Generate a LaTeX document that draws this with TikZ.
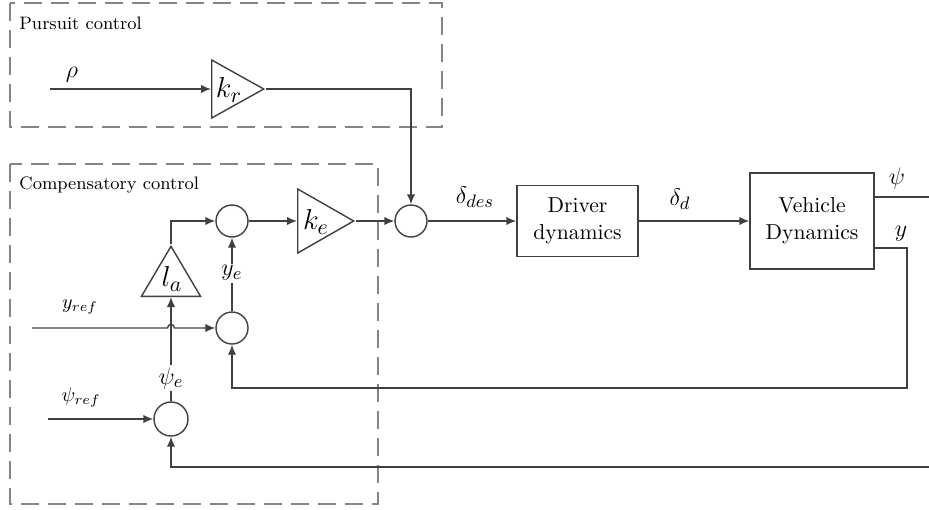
\documentclass[tikz,border=0pt]{standalone}
\usepackage{amsmath}
\usetikzlibrary{arrows.meta,shapes.geometric}
\definecolor{linegray}{HTML}{404040}
\definecolor{dashgray}{HTML}{858585}
\tikzset{
  sumnode/.style={draw=linegray, circle, minimum size=16pt, inner sep=0pt, line width=0.7pt},
  gainnode/.style={draw=linegray, isosceles triangle, isosceles triangle stretches, inner sep=0pt, line width=0.7pt},
  gainlbl/.style={inner sep=0pt, font=\fontsize{15}{17}\selectfont},
  blocknode/.style={draw=linegray, rectangle, align=center, inner sep=0pt, line width=0.7pt, font=\fontsize{10.8}{13.5}\selectfont},
  sig/.style={draw=linegray, line width=0.7pt, -{Latex[length=5pt,width=4.2pt]}},
  wire/.style={draw=linegray, line width=0.7pt},
  groupbox/.style={draw=dashgray, dash pattern=on 9pt off 4.5pt, line width=0.6pt},
  grouptitle/.style={anchor=west, inner sep=0pt, font=\small},
  mathlbl/.style={inner sep=1pt, font=\fontsize{12.5}{14}\selectfont},
  reflbl/.style={inner sep=1pt, font=\fontsize{10}{12}\selectfont},
}

\begin{document}
\begin{tikzpicture}[x=0.5pt, y=-0.5pt]
  \useasboundingbox (0,0) rectangle (929,509);
  % group frames
  \draw[groupbox] (10,3) rectangle (442,127);
  \node[grouptitle] (pursuittitle) at (19,23) {Pursuit control};
  \draw[groupbox] (10,164) rectangle (378,504);
  \node[grouptitle] (comptitle) at (19,185) {Compensatory control};

  % blocks
  \node[gainnode, anchor=west, minimum width=29pt, minimum height=26pt] (kr) at (211,89) {};
  \node[gainlbl] (krlbl) at (229,90) {$k_r$};
  \node[gainnode, anchor=west, minimum width=32pt, minimum height=28pt] (ke) at (297,221) {};
  \node[gainlbl] (kelbl) at (316,222) {$k_e$};
  \node[gainnode, shape border rotate=90, anchor=south, minimum width=29.5pt, minimum height=25pt] (la) at (171,297) {};
  \node[gainlbl] (lalbl) at (172,279) {$l_a$};
  \node[sumnode] (sumdes) at (411,221) {};
  \node[sumnode] (sume) at (232,221) {};
  \node[sumnode] (sumy) at (232,328) {};
  \node[sumnode, minimum size=17pt] (sumpsi) at (171,419) {};
  \node[blocknode, minimum width=60.5pt, minimum height=35.5pt] (driver) at (577.5,221) {Driver\\dynamics};
  \node[blocknode, minimum width=62pt, minimum height=48pt] (vehicle) at (812,221) {Vehicle\\Dynamics};

  % free ends
  \coordinate (rhoin) at (50,89);
  \coordinate (yrefin) at (32,328);
  \coordinate (psirefin) at (48,419);
  \coordinate (psiout) at (929,197);
  \coordinate (psiback) at (929,467);
  \coordinate (ycorner) at (907,248);
  \coordinate (yback) at (907,388);

  % signals
  \draw[sig] (rhoin) -- (kr.west);
  \node[mathlbl] (rholbl) at (72,75) {$\rho$};
  \draw[sig] (kr.apex) -| (sumdes.north);
  \draw[sig] (ke.apex) -- (sumdes.west);
  \draw[sig] (sume.east) -- (ke.west);
  \draw[sig] (sumdes.east) -- (driver.west);
  \node[mathlbl] (ddeslbl) at (475,197) {$\delta_{des}$};
  \draw[sig] (driver.east) -- (vehicle.west);
  \node[mathlbl] (ddlbl) at (680,199) {$\delta_d$};

  \draw[wire] (vehicle.east |- psiout) -- (psiout);
  \node[mathlbl] (psilbl) at (897,178) {$\psi$};
  \draw[sig] (psiback) -| (sumpsi.south);
  \draw[sig] (vehicle.east |- ycorner) -- (ycorner) -- (yback) -| (sumy.south);
  \node[mathlbl] (ylbl) at (901,234) {$y$};

  \draw[sig] (yrefin) -- (167.5,328) .. controls (167.5,323.3) and (174.5,323.3) .. (174.5,328) -- (sumy.west);
  \node[reflbl] (yreflbl) at (80,307) {$y_{ref}$};
  \draw[sig] (psirefin) -- (sumpsi.west);
  \node[reflbl] (psireflbl) at (81,397) {$\psi_{ref}$};

  \draw[sig] (sumpsi.north) -- (la.south);
  \node[mathlbl, fill=white] (psielbl) at (171,378) {$\psi_e$};
  \draw[sig] (la.apex) |- (sume.west);
  \draw[sig] (sumy.north) -- (sume.south);
  \node[mathlbl, fill=white] (yelbl) at (232,273) {$y_e$};
\end{tikzpicture}
\end{document}
